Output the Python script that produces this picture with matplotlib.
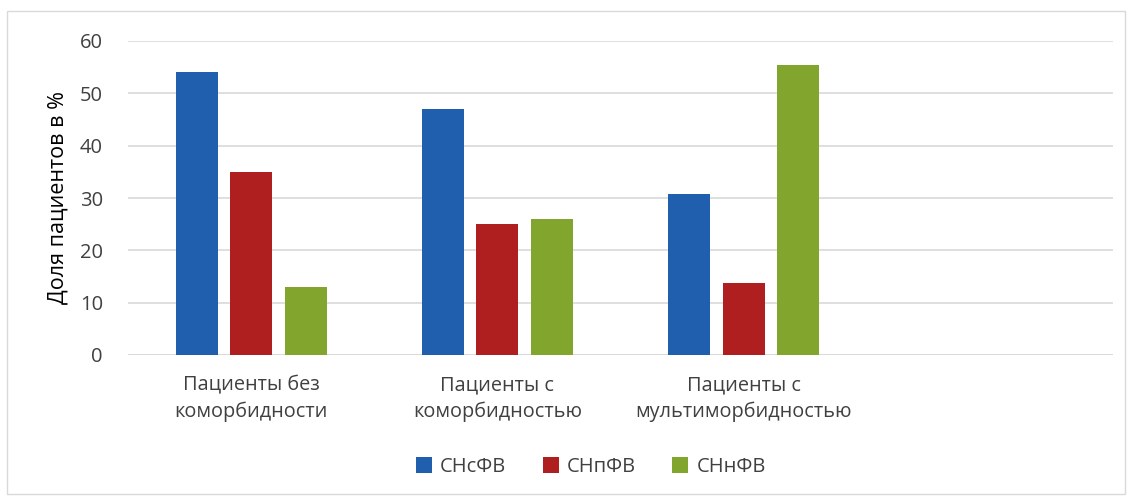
import numpy as np
import matplotlib.pyplot as plt
from matplotlib.patches import Rectangle

plt.rcParams['font.family'] = ['Open Sans', 'DejaVu Sans']

categories = ['Пациенты без\nкоморбидности', 'Пациенты с\nкоморбидностью', 'Пациенты с\nмультиморбидностью']
series = ['СНсФВ', 'СНпФВ', 'СНнФВ']
snsfv = [54, 47, 30.7]
snpfv = [35, 25, 13.8]
snnfv = [13, 26, 55.5]
yticks = [0, 10, 20, 30, 40, 50, 60]

colors = ['#1F5FAD', '#AF1F1F', '#82A62D']
text_col = '#404040'

fig = plt.figure(figsize=(11.32, 4.97), dpi=100)
ax = fig.add_axes([128/1132, 1-355/497, (1113-128)/1132, (355-41)/497])

# outer frame like the office chart area
fig.patches.append(Rectangle((7/1132, 3/497), 1118/1132, 483/497, transform=fig.transFigure,
                             fill=False, edgecolor='#D9D9D9', linewidth=1))

x = np.arange(len(categories))
w = 0.171
step = 0.2215
for i, (vals, name) in enumerate(zip([snsfv, snpfv, snnfv], series)):
    ax.bar(x + (i - 1) * step, vals, width=w, color=colors[i], label=name, zorder=3)

ax.set_xlim(-0.5, 3.5)
ax.set_ylim(0, 60)
ax.set_yticks(yticks)
ax.set_xticks(x)
ax.set_xticklabels(categories, fontsize=14.3, color=text_col, linespacing=1.35)
ax.tick_params(axis='y', labelsize=14.5, colors=text_col, length=0, pad=18)
ax.tick_params(axis='x', length=0, pad=15)
ax.grid(axis='y', color='#D9D9D9', linewidth=1.2, zorder=0)
for s in ax.spines.values():
    s.set_visible(False)
ax.axhline(0, color='#D9D9D9', linewidth=1.2, zorder=1)

ax.set_ylabel('Доля пациентов в %', fontsize=15.5, color='black', labelpad=8)

fig.legend(loc='center', bbox_to_anchor=(0.522, 1-467/497), ncol=3, frameon=False,
           fontsize=14.5, handlelength=0.8, handleheight=0.8, columnspacing=1.8,
           handletextpad=0.4, labelcolor=text_col)

fig.savefig('out.png', dpi=100)
